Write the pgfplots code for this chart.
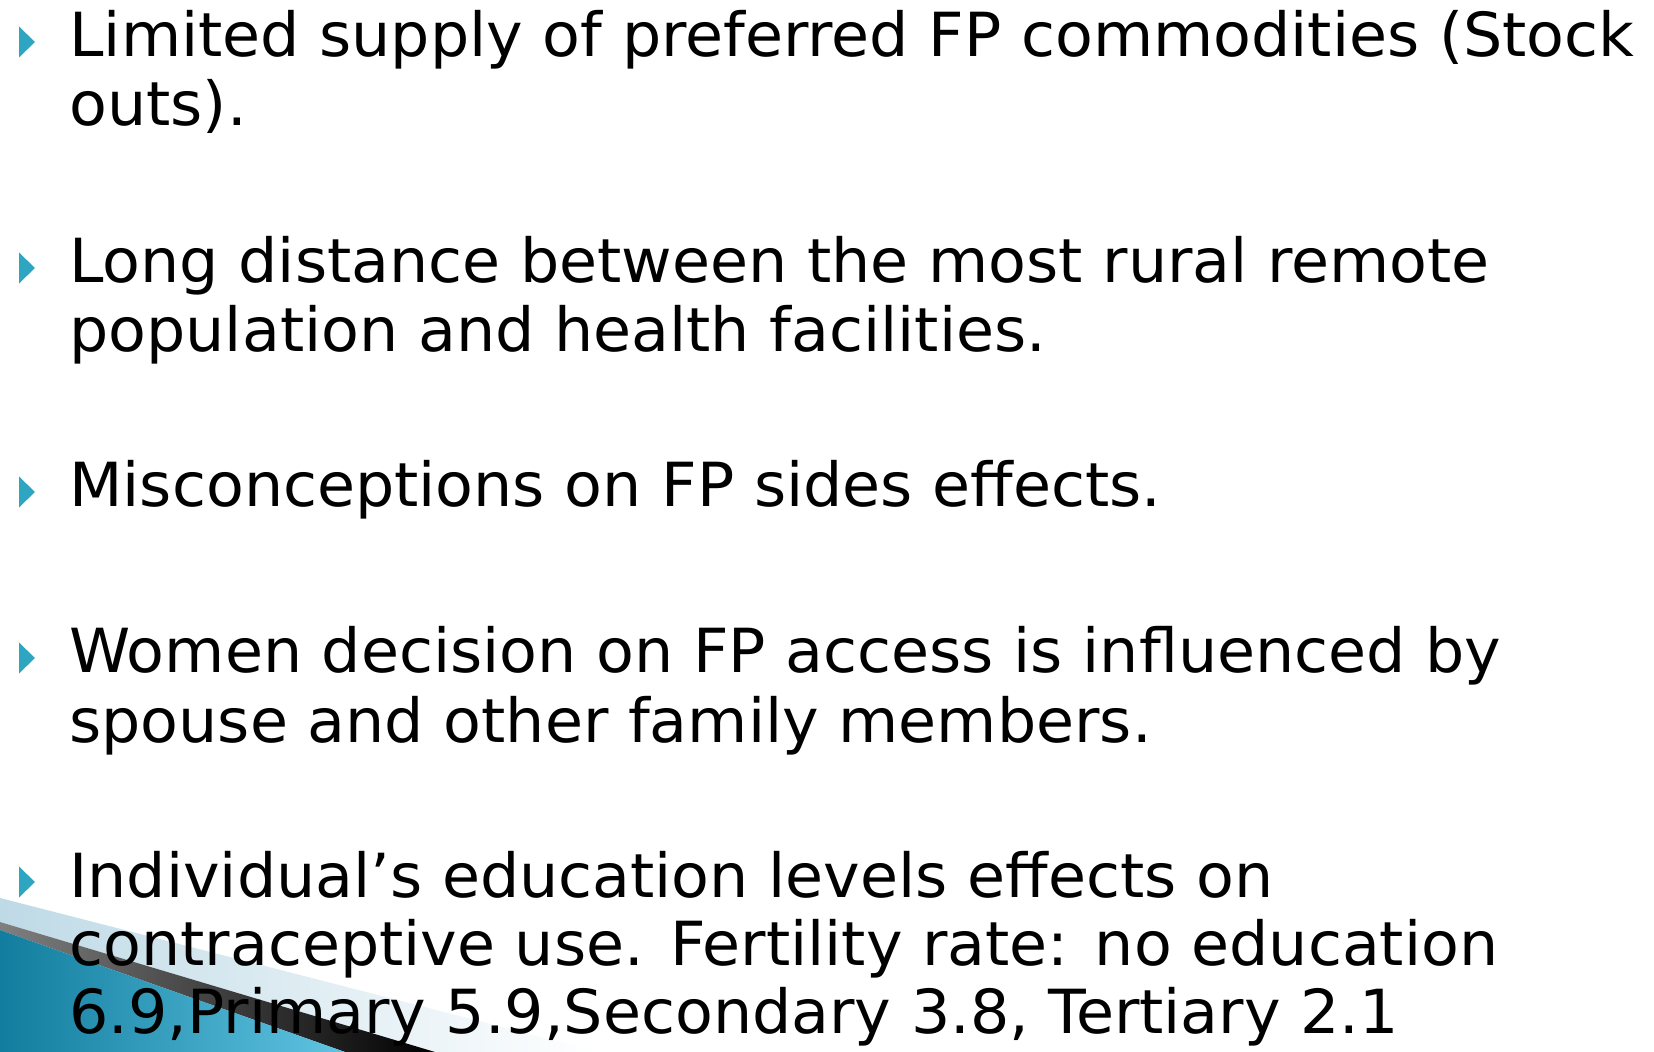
\documentclass[border=0pt]{standalone}
\usepackage{pgfplots}
\pgfplotsset{compat=1.18}
\usepackage{fontspec}
\setmainfont[FakeStretch=1.017]{DejaVu Sans}
\definecolor{bul}{RGB}{46,166,193}
\definecolor{tealdark}{RGB}{18,125,158}
\definecolor{teallight}{RGB}{96,196,226}
\definecolor{shadowlight}{RGB}{190,218,230}
\pgfdeclareplotmark{bullettri}{%
 \pgfpathmoveto{\pgfqpoint{-4pt}{-7.75pt}}%
 \pgfpathlineto{\pgfqpoint{4pt}{0pt}}%
 \pgfpathlineto{\pgfqpoint{-4pt}{7.75pt}}%
 \pgfpathclose\pgfusepathqfill}
\begin{document}
\begin{tikzpicture}
\begin{axis}[width=827pt,height=526pt,scale only axis,
  xmin=0,xmax=1654,ymin=0,ymax=1052,y dir=reverse,hide axis,clip=false]
% frame of the slide (invisible, fixes the picture's extent)
\addplot[draw=none, forget plot] coordinates {(0,0) (1654,0) (1654,1052) (0,1052) (0,0)};
% light shadow above the black band
\addplot[draw=none, left color=shadowlight, right color=white] coordinates {(0,898) (600,1052) (435,1052) (0,922)};
% black band
\addplot[draw=none, left color=black!50, right color=black] coordinates {(0,922) (435,1052) (345,1052) (0,930)};
% blue swoosh
\addplot[draw=none, left color=tealdark, right color=teallight] coordinates {(0,930) (345,1052) (0,1052)};
% bullets
\addplot[only marks, mark=bullettri, color=bul] coordinates {(27,42) (27,268) (27,492) (27,658) (27,882)};
\tikzset{txt/.style={anchor=base west, inner sep=0pt, font=\fontsize{30.4}{34.5}\selectfont}}
\node[txt] at (axis cs:69,57) {Limited supply of preferred FP commodities (Stock};
\node[txt] at (axis cs:69,126) {outs).};
\node[txt] at (axis cs:69,283) {Long distance between the most rural remote};
\node[txt] at (axis cs:69,352) {population and health facilities.};
\node[txt] at (axis cs:69,507) {Misconceptions on FP sides effects.};
\node[txt] at (axis cs:69,673) {Women decision on FP access is influenced by};
\node[txt] at (axis cs:69,742) {spouse and other family members.};
\node[txt] at (axis cs:69,897) {Individual’s education levels effects on};
\node[txt] at (axis cs:69,965) {contraceptive use. Fertility rate: no education};
\node[txt] at (axis cs:69,1033) {6.9,Primary 5.9,Secondary 3.8, Tertiary 2.1};
\end{axis}
\end{tikzpicture}
\end{document}
